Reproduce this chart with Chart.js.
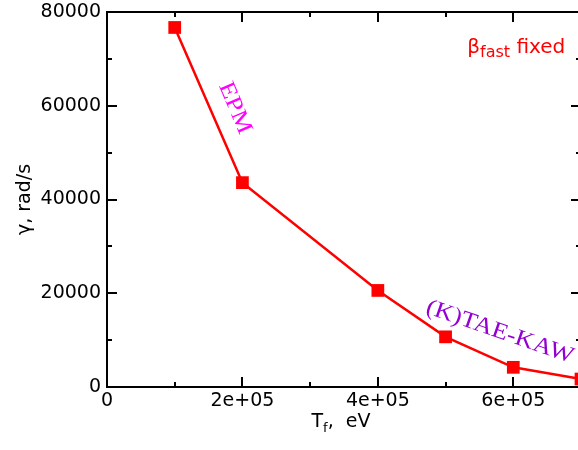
<!DOCTYPE html>
<html>
<head>
<meta charset="utf-8">
<script src="https://cdn.jsdelivr.net/npm/chart.js@4/dist/chart.umd.min.js"></script>
<style>
  html, body { margin: 0; padding: 0; background: #fff; overflow: hidden; width: 578px; height: 450px; }
  #wrap { width: 600px; height: 450px; }
</style>
</head>
<body>
<div id="wrap"><canvas id="growth" width="600" height="450"></canvas></div>
<script>
// Fast-particle temperature (eV) and growth rate (rad/s)
const tempEV = [1e5, 2e5, 4e5, 5e5, 6e5, 7e5];
const gammaRadS = [76700, 43600, 20600, 10700, 4200, 1700];

// Axis ticks
const xMajorTicks = [0, 2e5, 4e5, 6e5];
const xTickLabels = ['0', '2e+05', '4e+05', '6e+05'];
const xMinorTicks = [1e5, 3e5, 5e5];
const yMajorTicks = [0, 20000, 40000, 60000, 80000];
const yTickLabels = ['0', '20000', '40000', '60000', '80000'];
const yMinorTicks = [10000, 30000, 50000, 70000];

const SANS = 'DejaVu Sans';
const SERIF = 'Liberation Serif';

// Box frame with inward ticks on all four sides
const framePlugin = {
  id: 'frame',
  beforeDatasetsDraw(chart) {
    const { ctx, chartArea: a, scales: { x, y } } = chart;
    ctx.save();
    ctx.strokeStyle = '#000';
    ctx.lineWidth = 2;
    ctx.strokeRect(a.left, a.top, a.right - a.left, a.bottom - a.top);
    ctx.beginPath();
    const xt = (v, len) => {
      const px = Math.round(x.getPixelForValue(v));
      ctx.moveTo(px, a.bottom); ctx.lineTo(px, a.bottom - len);
      ctx.moveTo(px, a.top); ctx.lineTo(px, a.top + len);
    };
    const yt = (v, len) => {
      const py = Math.round(y.getPixelForValue(v));
      ctx.moveTo(a.left, py); ctx.lineTo(a.left + len, py);
      ctx.moveTo(a.right, py); ctx.lineTo(a.right - len, py);
    };
    xMajorTicks.forEach(v => xt(v, 10));
    xMinorTicks.forEach(v => xt(v, 5));
    yMajorTicks.forEach(v => yt(v, 10));
    yMinorTicks.forEach(v => yt(v, 5));
    ctx.stroke();
    ctx.restore();
  }
};

// Text labels: x-axis title with subscript, regime labels and the beta note
const labelsPlugin = {
  id: 'labels',
  afterDatasetsDraw(chart) {
    const { ctx, chartArea: a, scales: { x, y } } = chart;

    const rotText = (txt, px, py, deg, font, color, stretch) => {
      ctx.save();
      ctx.translate(px, py);
      ctx.rotate(deg * Math.PI / 180);
      ctx.scale(stretch, 1);
      ctx.font = font;
      ctx.fillStyle = color;
      ctx.textAlign = 'center';
      ctx.textBaseline = 'middle';
      ctx.fillText(txt, 0, 0);
      ctx.restore();
    };

    rotText('EPM', x.getPixelForValue(1.89e5), y.getPixelForValue(59500), 67,
      '23px "' + SERIF + '"', '#ff00ff', 1.15);
    rotText('(K)TAE-KAW', x.getPixelForValue(5.8e5), y.getPixelForValue(11700), 19,
      '23px "' + SERIF + '"', '#9400d3', 1.14);

    // beta_fast fixed
    ctx.save();
    ctx.fillStyle = '#ff0000';
    ctx.textAlign = 'left';
    ctx.textBaseline = 'alphabetic';
    let bx = x.getPixelForValue(5.32e5);
    const by = y.getPixelForValue(71250);
    ctx.font = '20px "' + SANS + '"';
    ctx.fillText('β', bx, by);
    bx += ctx.measureText('β').width;
    ctx.font = '16px "' + SANS + '"';
    ctx.fillText('fast', bx, by + 4);
    bx += ctx.measureText('fast').width;
    ctx.font = '20px "' + SANS + '"';
    ctx.fillText(' fixed', bx, by);
    ctx.restore();

    // x-axis title: T_f,  eV
    ctx.save();
    ctx.fillStyle = '#000';
    ctx.textAlign = 'left';
    ctx.textBaseline = 'alphabetic';
    const mainFont = '19px "' + SANS + '"';
    const subFont = '13px "' + SANS + '"';
    ctx.font = mainFont; const wT = ctx.measureText('T').width; const wRest = ctx.measureText(',  eV').width;
    ctx.font = subFont; const wF = ctx.measureText('f').width;
    let tx = (a.left + a.right) / 2 - 3 - (wT + wF + wRest) / 2;
    const ty = a.bottom + 40;
    ctx.font = mainFont; ctx.fillText('T', tx, ty); tx += wT;
    ctx.font = subFont; ctx.fillText('f', tx, ty + 5); tx += wF;
    ctx.font = mainFont; ctx.fillText(',  eV', tx, ty);
    ctx.restore();
  }
};

new Chart(document.getElementById('growth'), {
  type: 'line',
  data: {
    datasets: [{
      data: tempEV.map((t, i) => ({ x: t, y: gammaRadS[i] })),
      borderColor: '#ff0000',
      backgroundColor: '#ff0000',
      borderWidth: 2.5,
      tension: 0,
      pointStyle: 'rect',
      pointRadius: 9,
      pointHoverRadius: 9,
      pointBorderWidth: 0,
      clip: false
    }]
  },
  options: {
    responsive: false,
    animation: false,
    events: [],
    layout: { padding: { top: 12, right: 19, left: 0, bottom: 0 } },
    plugins: { legend: { display: false }, tooltip: { enabled: false } },
    scales: {
      x: {
        type: 'linear',
        min: 0,
        max: 7e5,
        grid: { display: false, drawTicks: false },
        border: { display: false },
        afterBuildTicks: s => { s.ticks = xMajorTicks.map(v => ({ value: v })); },
        afterFit: s => { s.height = 63; s.paddingLeft = 0; s.paddingRight = 0; },
        ticks: {
          padding: 3,
          autoSkip: false,
          maxRotation: 0,
          color: '#000',
          font: { family: SANS, size: 19 },
          callback: (v, i) => xTickLabels[i]
        }
      },
      y: {
        type: 'linear',
        min: 0,
        max: 80000,
        grid: { display: false, drawTicks: false },
        border: { display: false },
        afterBuildTicks: s => { s.ticks = yMajorTicks.map(v => ({ value: v })); },
        afterFit: s => { s.width = 107; s.paddingTop = 0; s.paddingBottom = 0; },
        ticks: {
          padding: 6,
          autoSkip: false,
          color: '#000',
          font: { family: SANS, size: 19 },
          callback: (v, i) => yTickLabels[i]
        },
        title: {
          display: true,
          text: 'γ, rad/s',
          color: '#000',
          font: { family: SANS, size: 19 },
          padding: { top: 14, bottom: 0 }
        }
      }
    }
  },
  plugins: [framePlugin, labelsPlugin]
});
</script>
</body>
</html>
